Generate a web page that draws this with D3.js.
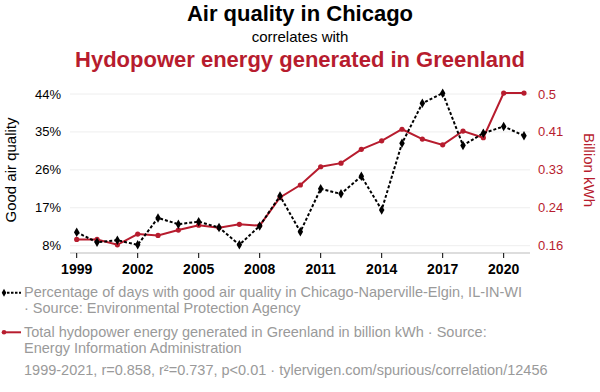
<!DOCTYPE html>
<html><head><meta charset="utf-8">
<script src="https://cdn.jsdelivr.net/npm/d3@7"></script>
<style>body{margin:0;background:#fff}svg{display:block;font-family:"Liberation Sans",Arial,Helvetica,sans-serif}</style>
</head><body><div id="chart"></div>
<script>
const years = d3.range(1999, 2022);
const airQuality = [11.2,8.8,9.3,8.2,14.6,13.1,13.7,12.3,8.2,12.7,19.8,11.3,21.5,20.3,24.5,16.5,32.3,41.8,44.2,31.8,34.7,36.3,34.1];
const hydropower = [0.174,0.174,0.162,0.186,0.183,0.195,0.206,0.200,0.208,0.205,0.268,0.296,0.337,0.345,0.376,0.395,0.421,0.399,0.386,0.417,0.402,0.502,0.502];
const leftTicks = [8,17,26,35,44];
const rightTicks = [0.16,0.245,0.33,0.415,0.5];
const rightTickLabels = ["0.16","0.24","0.33","0.41","0.5"];
const xTicks = [1999,2002,2005,2008,2011,2014,2017,2020];
const red = "#b71c2e";

const W=600,H=392;
const svg=d3.select("#chart").append("svg").attr("width",W).attr("height",H);
const x=d3.scaleLinear().domain([1999,2021]).range([76.7,524]);
const yL=d3.scaleLinear().domain([8,44]).range([245.7,94]);
const yR=d3.scaleLinear().domain([0.16,0.5]).range([245.7,94]);

// titles
svg.append("text").attr("x",300).attr("y",21).attr("text-anchor","middle").attr("font-size",22).attr("font-weight","bold").attr("fill","#000").text("Air quality in Chicago");
svg.append("text").attr("x",300).attr("y",42).attr("text-anchor","middle").attr("font-size",15).attr("fill","#000").text("correlates with");
svg.append("text").attr("x",300).attr("y",67.3).attr("text-anchor","middle").attr("font-size",22).attr("font-weight","bold").attr("fill",red).text("Hydopower energy generated in Greenland");

// gridlines
svg.append("g").selectAll("line").data(leftTicks).join("line")
  .attr("x1",70).attr("x2",530).attr("y1",d=>yL(d)).attr("y2",d=>yL(d))
  .attr("stroke","#eeeeee").attr("stroke-width",1);

// left axis labels
svg.append("g").selectAll("text").data(leftTicks).join("text")
  .attr("x",61).attr("y",d=>yL(d)).attr("dy","0.35em").attr("text-anchor","end")
  .attr("font-size",13).attr("fill","#000").text(d=>d+"%");
// right axis labels
svg.append("g").selectAll("text").data(rightTicks).join("text")
  .attr("x",538).attr("y",d=>yR(d)).attr("dy","0.35em").attr("text-anchor","start")
  .attr("font-size",13).attr("fill",red).text((d,i)=>rightTickLabels[i]);

// axis titles
svg.append("text").attr("transform","translate(16,170) rotate(-90)").attr("text-anchor","middle").attr("font-size",15).attr("fill","#000").text("Good air quality");
svg.append("text").attr("transform","translate(584,170) rotate(90)").attr("text-anchor","middle").attr("font-size",15).attr("fill",red).text("Billion kWh");

// x axis
const xa=svg.append("g").attr("transform","translate(0,253)");
xa.append("line").attr("x1",70).attr("x2",530).attr("stroke","#bbb");
xa.selectAll("line.t").data(xTicks).join("line").attr("class","t")
  .attr("x1",d=>x(d)).attr("x2",d=>x(d)).attr("y1",0).attr("y2",5).attr("stroke","#000");
xa.selectAll("text").data(xTicks).join("text")
  .attr("x",d=>x(d)).attr("y",21).attr("text-anchor","middle").attr("font-size",14).attr("font-weight","bold").attr("fill","#000").text(d=>d);

// red line
const lineR=d3.line().x((d,i)=>x(years[i])).y(d=>yR(d));
svg.append("path").attr("d",lineR(hydropower)).attr("fill","none").attr("stroke",red).attr("stroke-width",2);
svg.append("g").selectAll("circle").data(hydropower).join("circle")
  .attr("cx",(d,i)=>x(years[i])).attr("cy",d=>yR(d)).attr("r",2.6).attr("fill",red);

// black dashed line
const lineL=d3.line().x((d,i)=>x(years[i])).y(d=>yL(d));
svg.append("path").attr("d",lineL(airQuality)).attr("fill","none").attr("stroke","#000").attr("stroke-width",2).attr("stroke-dasharray","3,2");
const diamond=d3.symbol().type(d3.symbolDiamond).size(26);
svg.append("g").selectAll("path").data(airQuality).join("path")
  .attr("transform",(d,i)=>`translate(${x(years[i])},${yL(d)})`).attr("d",diamond).attr("fill","#000");

// legend
const gray="#9a9a9a";
const lg=svg.append("g");
const fs=14.5, tx=24;
lg.append("line").attr("x1",3).attr("x2",21).attr("y1",292.7).attr("y2",292.7).attr("stroke","#000").attr("stroke-width",2).attr("stroke-dasharray","2.5,1.5");
lg.append("path").attr("transform","translate(4,292.7)").attr("d",d3.symbol().type(d3.symbolDiamond).size(18)).attr("fill","#000");
lg.append("text").attr("x",tx).attr("y",297.3).attr("font-size",fs).attr("fill",gray).text("Percentage of days with good air quality in Chicago-Naperville-Elgin, IL-IN-WI");
lg.append("text").attr("x",tx).attr("y",313.3).attr("font-size",fs).attr("fill",gray).text("· Source: Environmental Protection Agency");
lg.append("line").attr("x1",3).attr("x2",21).attr("y1",332.3).attr("y2",332.3).attr("stroke",red).attr("stroke-width",2);
lg.append("circle").attr("cx",4).attr("cy",332.3).attr("r",2.3).attr("fill",red);
lg.append("text").attr("x",tx).attr("y",336.5).attr("font-size",fs).attr("fill",gray).text("Total hydopower energy generated in Greenland in billion kWh · Source:");
lg.append("text").attr("x",tx).attr("y",352.5).attr("font-size",fs).attr("fill",gray).text("Energy Information Administration");
lg.append("text").attr("x",tx).attr("y",374.5).attr("font-size",fs).attr("fill",gray).text("1999-2021, r=0.858, r²=0.737, p<0.01 · tylervigen.com/spurious/correlation/12456");
</script></body></html>
